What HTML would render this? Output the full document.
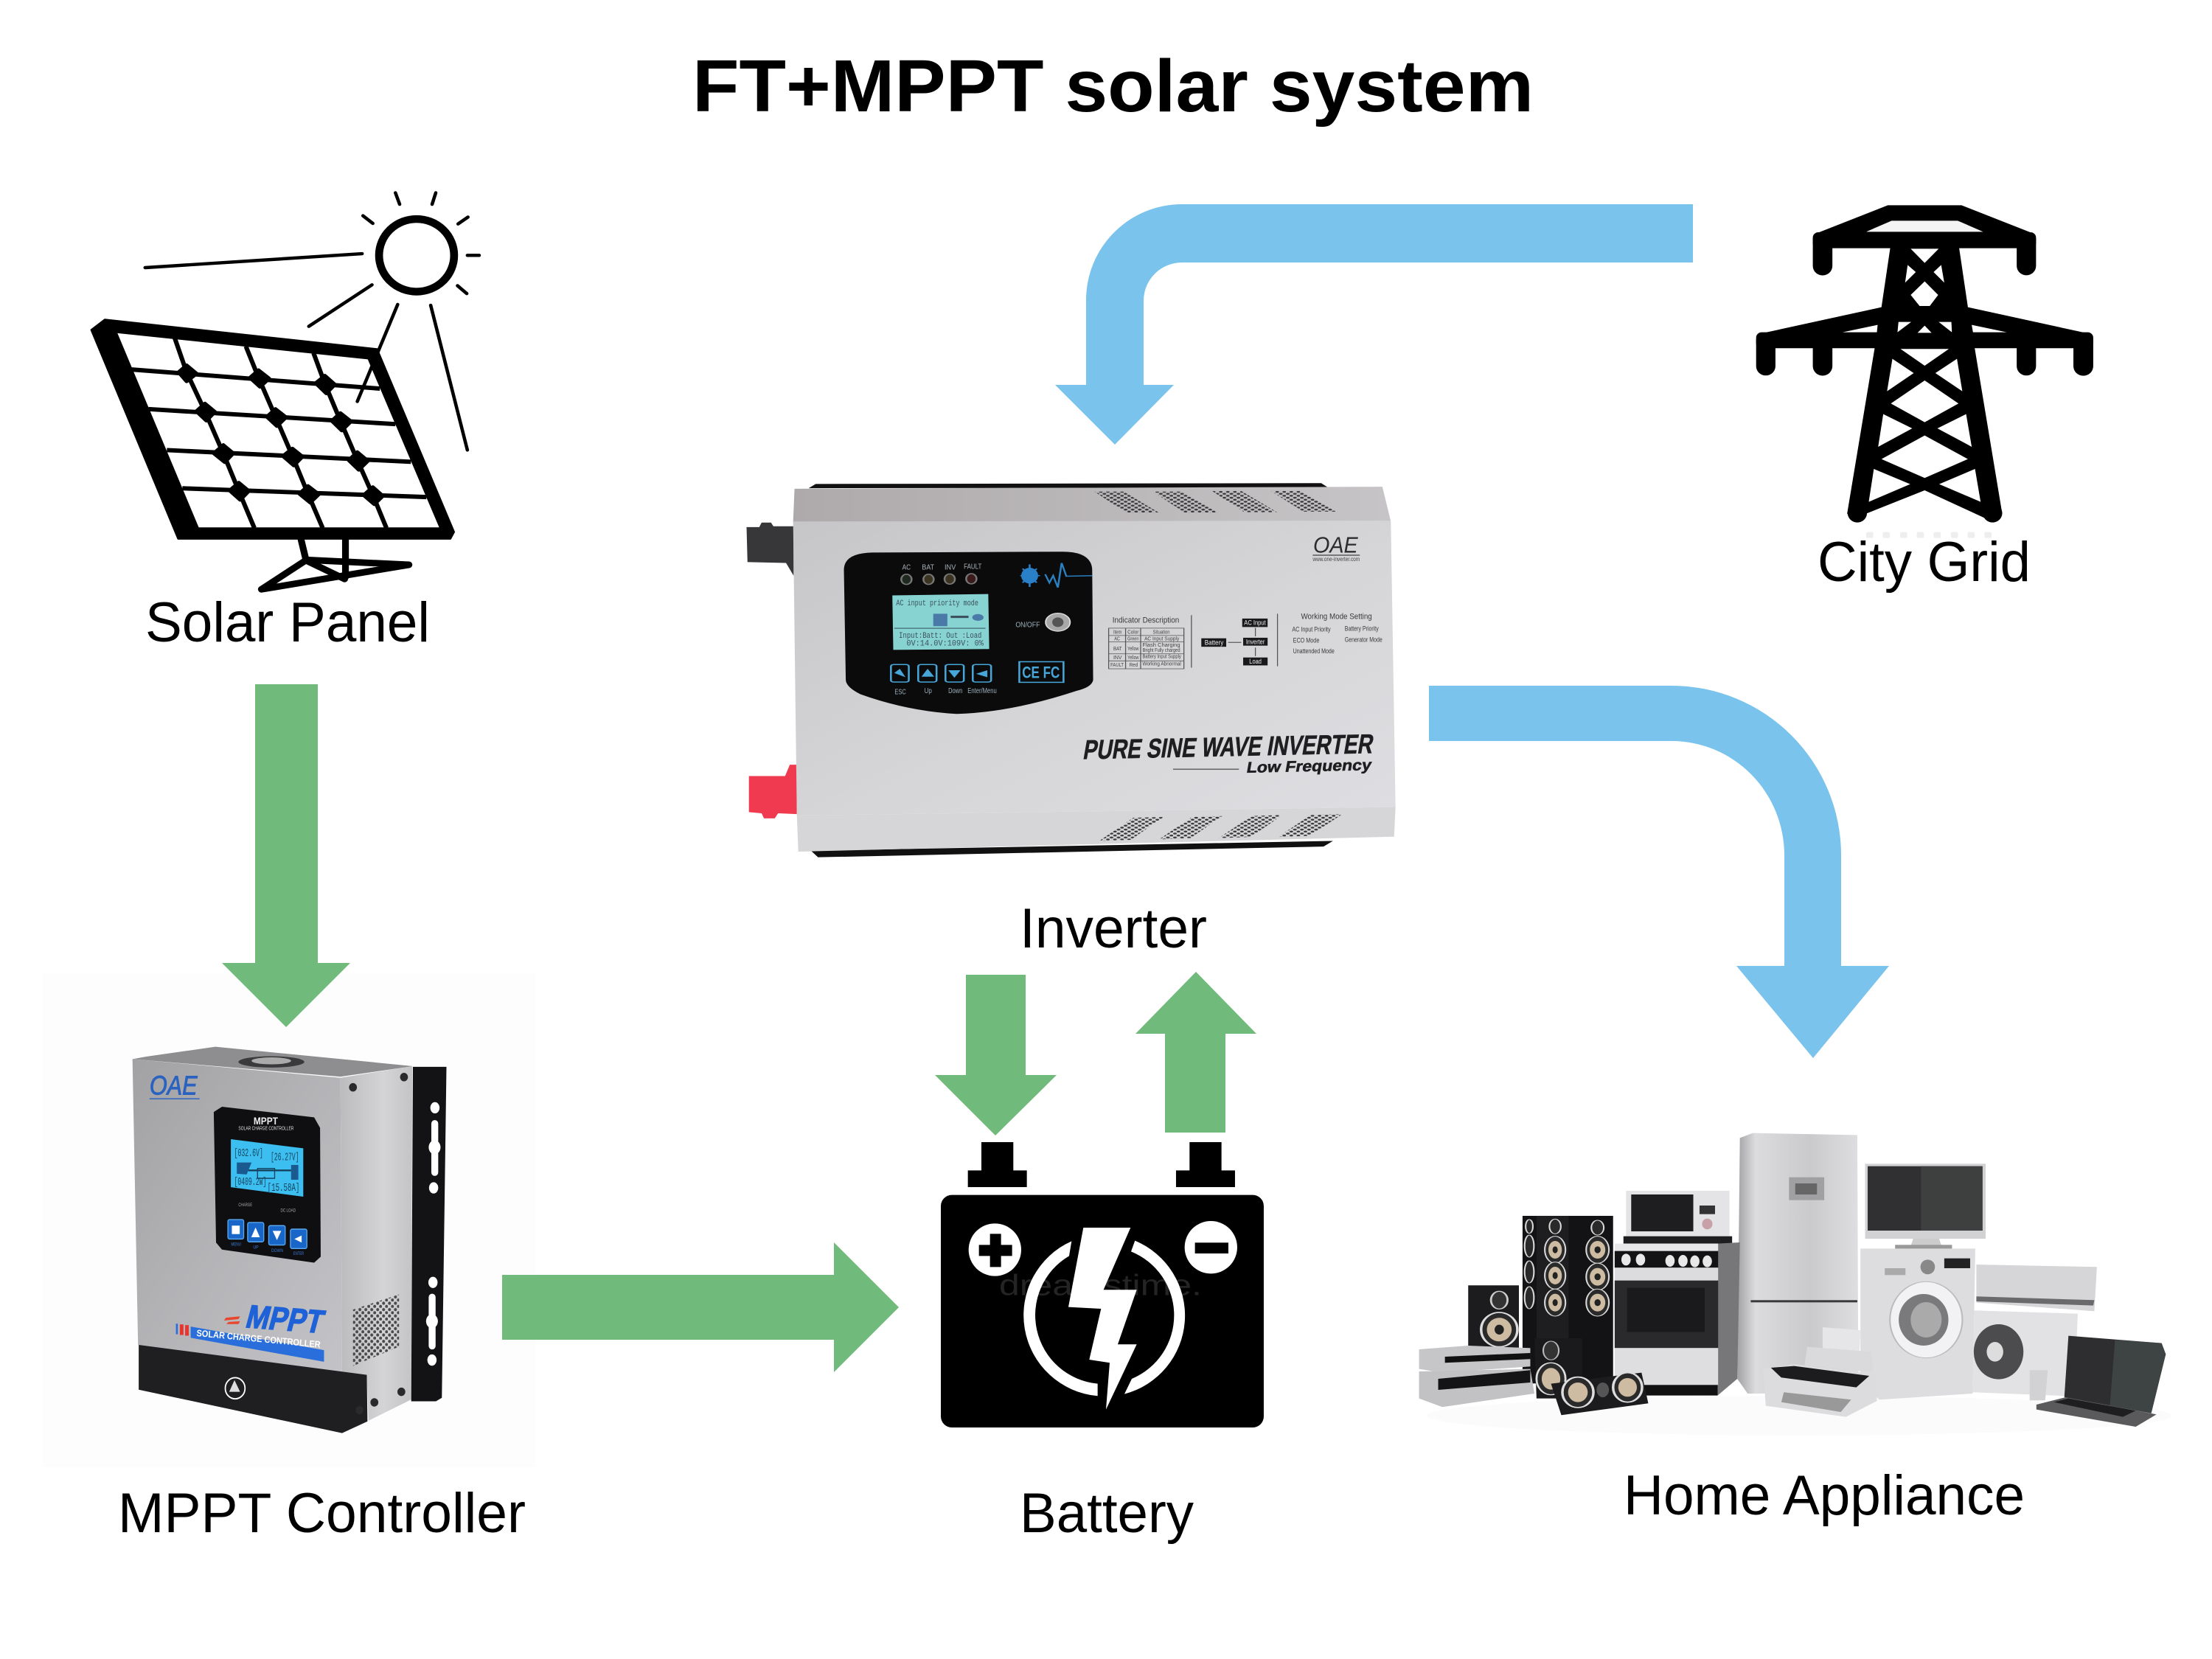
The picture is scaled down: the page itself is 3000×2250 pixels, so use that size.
<!DOCTYPE html>
<html><head><meta charset="utf-8"><title>FT+MPPT solar system</title>
<style>html,body{margin:0;padding:0;background:#fff}svg{display:block}
text{font-family:"Liberation Sans",sans-serif}.m{font-family:"Liberation Mono",monospace}</style></head>
<body>
<svg xmlns="http://www.w3.org/2000/svg" width="3000" height="2250" viewBox="0 0 3000 2250">
<defs>
<linearGradient id="face" x1="0" y1="0" x2="1" y2="1"><stop offset="0" stop-color="#c6c6c8"/><stop offset=".55" stop-color="#d6d6d8"/><stop offset="1" stop-color="#dedee2"/></linearGradient>
<linearGradient id="topg" x1="0" y1="0" x2="1" y2="0"><stop offset="0" stop-color="#aeaaab"/><stop offset="1" stop-color="#c6c4c6"/></linearGradient>
<linearGradient id="mfront" x1="0" y1="0" x2="1" y2="1"><stop offset="0" stop-color="#a2a2a4"/><stop offset=".5" stop-color="#b4b4b7"/><stop offset="1" stop-color="#c4c4c8"/></linearGradient>
<linearGradient id="mside" x1="0" y1="0" x2="1" y2="0"><stop offset="0" stop-color="#bcbcbe"/><stop offset=".6" stop-color="#d4d4d6"/><stop offset="1" stop-color="#c4c4c6"/></linearGradient>
<linearGradient id="fr" x1="0" y1="0" x2="1" y2="0"><stop offset="0" stop-color="#a2a2a4"/><stop offset=".15" stop-color="#dcdcde"/><stop offset=".6" stop-color="#cacacc"/><stop offset="1" stop-color="#dedee0"/></linearGradient>
<pattern id="vd" width="15" height="14" patternUnits="userSpaceOnUse"><ellipse cx="4" cy="4" rx="4" ry="3.4" fill="#3a3a3d"/><ellipse cx="11.5" cy="11" rx="4" ry="3.4" fill="#3a3a3d"/></pattern>
<pattern id="vm" width="18" height="18" patternUnits="userSpaceOnUse"><circle cx="5" cy="5" r="4.5" fill="#4a4a4c"/><circle cx="14" cy="14" r="4.5" fill="#4a4a4c"/></pattern>
</defs>
<rect width="3000" height="2250" fill="#fff"/>
<rect x="57" y="1320" width="670" height="670" fill="#fdfdfd"/>

<!-- Title & labels -->
<text x="939" y="151" font-size="100" font-weight="700" textLength="1141" lengthAdjust="spacingAndGlyphs">FT+MPPT solar system</text>
<text x="197" y="870" font-size="76" textLength="386" lengthAdjust="spacingAndGlyphs">Solar Panel</text>
<text x="2465" y="788" font-size="76" textLength="289" lengthAdjust="spacingAndGlyphs">City Grid</text>
<text x="1383" y="1285" font-size="76" textLength="254" lengthAdjust="spacingAndGlyphs">Inverter</text>
<text x="160" y="2078" font-size="76" textLength="553" lengthAdjust="spacingAndGlyphs">MPPT Controller</text>
<text x="1383" y="2078" font-size="76" textLength="236" lengthAdjust="spacingAndGlyphs">Battery</text>
<text x="2202" y="2054" font-size="76" textLength="544" lengthAdjust="spacingAndGlyphs">Home Appliance</text>

<!-- Arrows -->
<g fill="#70bb7c">
<polygon points="346,928 431,928 431,1306 475,1306 388,1393 301,1306 346,1306"/>
<polygon points="681,1729 1131,1729 1131,1685 1219,1773 1131,1861 1131,1817 681,1817"/>
<polygon points="1310,1322 1391,1322 1391,1458 1433,1458 1350,1540 1268,1458 1310,1458"/>
<polygon points="1580,1536 1662,1536 1662,1402 1704,1402 1622,1318 1540,1402 1580,1402"/>
</g>
<g fill="#79c3ec">
<path d="M2296 277H1603A130 130 0 0 0 1473 407V522H1431L1512 603L1592 522H1551V407A52 52 0 0 1 1603 356H2296Z"/>
<path d="M1938 930H2267A230 230 0 0 1 2497 1160V1310H2562L2459 1435L2355 1310H2420V1160A153 155 0 0 0 2267 1005H1938Z"/>
</g>

<!-- Solar panel -->
<g transform="translate(100 240) scale(.3827 .3704)">
<polygon points="62,560 110,522 1075,630 1348,1300 1335,1325 370,1325" fill="#000" stroke="#000" stroke-width="6" stroke-linejoin="round"/>
<polygon points="155,572 1042,668 1295,1283 443,1283" fill="#fff"/>
<g fill="none" stroke="#000" stroke-width="16">
<polyline points="358,590 400,715 465,858 530,1012 585,1150 640,1285"/>
<polyline points="610,620 655,735 715,878 775,1022 830,1160 882,1285"/>
<polyline points="850,645 890,757 945,893 1005,1037 1060,1165 1108,1285"/>
<line x1="205" y1="705" x2="1085" y2="775"/>
<line x1="265" y1="850" x2="1140" y2="905"/>
<line x1="330" y1="1000" x2="1195" y2="1043"/>
<line x1="385" y1="1140" x2="1250" y2="1172"/>
</g>
<g fill="#000" stroke="#000" stroke-width="14" stroke-linejoin="round">
<polygon points="400,690 435,720 400,748 372,715"/><polygon points="655,708 692,738 660,768 625,735"/><polygon points="890,728 925,760 895,792 858,755"/>
<polygon points="465,830 500,860 470,892 435,858"/><polygon points="715,850 752,880 720,912 685,878"/><polygon points="945,865 982,895 950,928 915,893"/>
<polygon points="530,982 565,1012 535,1044 497,1012"/><polygon points="775,995 810,1024 780,1056 742,1022"/><polygon points="1005,1008 1042,1040 1010,1072 975,1037"/>
<polygon points="585,1120 620,1150 590,1182 553,1148"/><polygon points="830,1132 868,1162 838,1192 800,1160"/><polygon points="1060,1136 1095,1168 1065,1198 1028,1165"/>
</g>
<g fill="none" stroke="#000" stroke-linecap="round">
<circle cx="1215" cy="287" r="133" stroke-width="28"/>
<g stroke-width="12">
<line x1="1140" y1="58" x2="1155" y2="100"/><line x1="1283" y1="58" x2="1270" y2="100"/><line x1="1025" y1="142" x2="1060" y2="170"/><line x1="1397" y1="147" x2="1362" y2="172"/><line x1="1395" y1="287" x2="1437" y2="287"/><line x1="1360" y1="398" x2="1393" y2="427"/>
<line x1="253" y1="332" x2="1022" y2="281"/><line x1="1057" y1="395" x2="833" y2="547"/><line x1="1148" y1="467" x2="1005" y2="822"/><line x1="1265" y1="470" x2="1395" y2="1000"/></g>
<g stroke-width="24"><line x1="805" y1="1325" x2="822" y2="1398"/><line x1="963" y1="1325" x2="963" y2="1465"/>
<polygon points="825,1402 1188,1420 665,1510" stroke-linejoin="round"/><line x1="825" y1="1405" x2="960" y2="1472"/></g>
</g>
</g>

<!-- Tower -->
<g transform="translate(2350 260) scale(.3448 .3333)">
<g fill="#eee"><rect x="525" y="1385" width="28" height="24" rx="6"/><rect x="590" y="1385" width="28" height="24" rx="6"/><rect x="658" y="1385" width="28" height="24" rx="6"/><rect x="724" y="1385" width="28" height="24" rx="6"/><rect x="790" y="1385" width="28" height="24" rx="6"/><rect x="858" y="1385" width="28" height="24" rx="6"/><rect x="924" y="1385" width="28" height="24" rx="6"/><rect x="990" y="1385" width="28" height="24" rx="6"/></g>
<g fill="#000">
<polygon points="340,165 610,55 900,55 1170,165"/>
<rect x="315" y="165" width="878" height="65" rx="22"/>
<path d="M315 190H392V302A38 38 0 0 1 315 302ZM1117 190H1193V302A38 38 0 0 1 1117 302Z"/>
<polygon points="620,225 890,225 925,470 1060,1310 1020,1345 985,1325 755,1215 525,1310 490,1345 450,1310 585,470"/>
<circle cx="490" cy="1308" r="38"/><circle cx="1022" cy="1308" r="38"/>
<polygon points="120,575 585,470 925,470 1390,575"/>
<rect x="92" y="572" width="1326" height="65" rx="22"/>
<path d="M92 600H168V710A38 38 0 0 1 92 710ZM315 620H392V710A38 38 0 0 1 315 710ZM1117 620H1193V710A38 38 0 0 1 1117 710ZM1340 600H1418V710A38 38 0 0 1 1340 710Z"/>
</g>
<g fill="#fff">
<polygon points="525,163 625,118 885,118 985,163" fill="#f4f4f4"/>
<polygon points="432,572 570,542 567,572"/><polygon points="1078,572 940,542 945,572"/>
<polygon points="700,232 810,232 755,290"/><polygon points="688,298 720,327 678,370"/><polygon points="820,298 790,327 832,370"/>
<polygon points="755,365 808,420 775,465 735,465 700,420"/>
<polygon points="652,530 702,530 648,572"/><polygon points="810,530 860,530 862,572"/><polygon points="755,545 782,574 727,574"/>
<polygon points="660,640 850,640 755,708"/><polygon points="628,680 712,738 607,812"/><polygon points="882,680 797,738 903,812"/>
<polygon points="755,768 888,862 755,938 622,862"/><polygon points="592,905 706,963 572,1038"/><polygon points="918,905 805,963 940,1038"/>
<polygon points="755,992 925,1088 755,1165 585,1088"/><polygon points="555,1128 698,1190 535,1262"/><polygon points="953,1128 812,1190 975,1262"/>
</g>
</g>

<!-- Battery -->
<g transform="translate(1260 1540) scale(.3333)">
<path fill="#000" d="M213 27H343V142H398V210H158V142H213ZM1060 27H1190V142H1245V210H1005V142H1060Z"/>
<rect x="48" y="242" width="1314" height="946" rx="45" fill="#000"/>
<circle cx="268" cy="465" r="107" fill="#fff"/><path fill="#000" d="M248 400H293V445H338V490H293V535H248V490H203V445H248Z"/>
<circle cx="1147" cy="455" r="107" fill="#fff"/><rect x="1082" y="436" width="136" height="44" fill="#000"/>
<text x="285" y="650" font-size="120" fill="#242424" textLength="825" lengthAdjust="spacingAndGlyphs">dreamstime.</text>
<path fill="#fff" d="M580 430A330 330 0 0 0 686 1060V1010A280 280 0 0 1 570 490Z"/>
<path fill="#fff" d="M838 428A330 330 0 0 1 795 1052L825 990A280 280 0 0 0 822 472Z"/>
<polygon fill="#fff" points="628,375 820,375 710,628 845,628 768,850 845,850 720,1115 735,925 652,912 700,705 567,698"/>
</g>

<!-- Inverter -->
<g transform="translate(950 620) scale(.6378 .3827)">
<polygon points="230,110 245,95 1320,92 1335,108" fill="#111"/>
<polygon points="235,1395 250,1418 1325,1380 1345,1360" fill="#111"/>
<polygon points="98,248 125,248 130,232 150,232 155,245 198,245 198,420 182,375 100,372" fill="#37373a"/>
<polygon points="103,1130 180,1130 190,1090 205,1090 205,1265 165,1262 158,1280 135,1280 130,1262 103,1258" fill="#f03a50"/>
<polygon points="200,112 1450,105 1468,228 197,230" fill="url(#topg)"/>
<polygon points="197,228 1468,225 1478,1240 205,1270" fill="url(#face)"/>
<polygon points="205,1270 1478,1240 1475,1345 208,1398" fill="#d6d6d8"/>
<g fill="url(#vd)">
<polygon points="838,122 900,122 975,197 905,197"/><polygon points="962,122 1025,122 1100,197 1030,197"/><polygon points="1088,120 1150,120 1226,195 1156,195"/><polygon points="1213,120 1275,120 1352,193 1282,193"/>
<polygon points="985,1275 920,1278 848,1360 915,1356"/><polygon points="1110,1272 1045,1275 975,1355 1042,1350"/><polygon points="1238,1268 1172,1272 1102,1350 1170,1346"/><polygon points="1365,1265 1298,1268 1228,1346 1295,1342"/>
</g>
<path fill="#0b0b0c" d="M365 338L770 335Q832 335 833 400L835 790Q832 815 800 828Q660 905 545 910Q440 900 340 840Q310 815 309 790L305 400Q305 340 365 338Z"/>
<g font-size="26" fill="#a8b0b8">
<text x="429" y="398" textLength="18" lengthAdjust="spacingAndGlyphs">AC</text><text x="471" y="398" textLength="26" lengthAdjust="spacingAndGlyphs">BAT</text><text x="519" y="398" textLength="24" lengthAdjust="spacingAndGlyphs">INV</text><text x="560" y="396" textLength="38" lengthAdjust="spacingAndGlyphs">FAULT</text>
</g>
<g stroke="#777" stroke-width="4">
<ellipse cx="438" cy="433" rx="11" ry="18" fill="#1e2a20"/><ellipse cx="485" cy="433" rx="11" ry="18" fill="#3a3420"/><ellipse cx="530" cy="432" rx="11" ry="18" fill="#3a3420"/><ellipse cx="576" cy="431" rx="11" ry="18" fill="#3a1a1a"/>
</g>
<g fill="none" stroke="#2a80c8" stroke-width="4"><line x1="700" y1="380" x2="700" y2="460"/><line x1="680" y1="420" x2="722" y2="420"/><line x1="685" y1="395" x2="715" y2="445"/><line x1="715" y1="395" x2="685" y2="445"/></g>
<ellipse cx="700" cy="420" rx="18" ry="28" fill="#2a80c8"/>
<polyline points="733,415 742,445 750,420 760,462 768,375 778,422 833,420" fill="none" stroke="#2a80c0" stroke-width="4"/>
<polygon points="408,490 612,485 614,680 410,683" fill="#86d3d2"/>
<g class="m" fill="#3d4f5c" font-size="28">
<text class="m" x="416" y="525" textLength="175" lengthAdjust="spacingAndGlyphs">AC input priority mode</text>
<text class="m" x="422" y="640" textLength="176" lengthAdjust="spacingAndGlyphs">Input:Batt: Out :Load</text>
<text class="m" x="438" y="668" textLength="164" lengthAdjust="spacingAndGlyphs">0V:14.0V:109V: 0%</text>
</g>
<rect x="412" y="605" width="194" height="3" fill="#3d5f6c"/>
<rect x="495" y="555" width="30" height="44" fill="#4a7aa8"/><rect x="532" y="562" width="38" height="8" fill="#3d4f5c"/>
<circle cx="590" cy="568" r="12" fill="#4a7aa8"/>
<g fill="none" stroke="#47a6d8" stroke-width="4">
<rect x="405" y="735" width="38" height="62" rx="6"/><rect x="463" y="735" width="39" height="62" rx="6"/><rect x="521" y="735" width="39" height="62" rx="6"/><rect x="579" y="735" width="39" height="62" rx="6"/>
<rect x="678" y="725" width="94" height="73"/>
</g>
<g fill="#47a6d8"><polygon points="483,750 497,778 470,778"/><polygon points="540,782 527,755 553,755"/><polygon points="424,750 412,765 436,780"/><polygon points="586,768 610,755 610,780"/></g>
<text x="684" y="782" font-size="58" font-weight="700" fill="#47a6d8" textLength="80" lengthAdjust="spacingAndGlyphs">CE FC</text>
<g font-size="26" fill="#9db0bc">
<text x="413" y="840" textLength="24" lengthAdjust="spacingAndGlyphs">ESC</text><text x="476" y="836" textLength="16" lengthAdjust="spacingAndGlyphs">Up</text><text x="527" y="836" textLength="30" lengthAdjust="spacingAndGlyphs">Down</text><text x="568" y="836" textLength="62" lengthAdjust="spacingAndGlyphs">Enter/Menu</text>
<text x="670" y="602" textLength="52" lengthAdjust="spacingAndGlyphs">ON/OFF</text>
</g>
<ellipse cx="760" cy="585" rx="26" ry="32" fill="#a8a8a8" stroke="#ddd" stroke-width="3"/><ellipse cx="760" cy="585" rx="12" ry="17" fill="#555"/>
<text x="1303" y="338" font-size="80" font-style="italic" fill="#2c2c2e" textLength="95" lengthAdjust="spacingAndGlyphs">OAE</text>
<rect x="1302" y="346" width="100" height="3" fill="#333"/>
<text x="1302" y="368" font-size="22" fill="#444" textLength="100" lengthAdjust="spacingAndGlyphs">www.one-inverter.com</text>
<g fill="#3a3a3c">
<text x="876" y="586" font-size="28" textLength="142" lengthAdjust="spacingAndGlyphs">Indicator Description</text>
<text x="1277" y="574" font-size="28" textLength="151" lengthAdjust="spacingAndGlyphs">Working Mode Setting</text>
<g font-size="24">
<text x="1258" y="618" textLength="82" lengthAdjust="spacingAndGlyphs">AC Input Priority</text>
<text x="1370" y="616" textLength="72" lengthAdjust="spacingAndGlyphs">Battery Priority</text>
<text x="1260" y="657" textLength="56" lengthAdjust="spacingAndGlyphs">ECO Mode</text>
<text x="1370" y="654" textLength="80" lengthAdjust="spacingAndGlyphs">Generator Mode</text>
<text x="1260" y="695" textLength="88" lengthAdjust="spacingAndGlyphs">Unattended Mode</text>
</g></g>
<g fill="none" stroke="#555" stroke-width="2">
<rect x="868" y="606" width="160" height="144"/><line x1="868" y1="632" x2="1028" y2="632"/><line x1="868" y1="655" x2="1028" y2="655"/><line x1="868" y1="697" x2="1028" y2="697"/><line x1="868" y1="722" x2="1028" y2="722"/><line x1="904" y1="606" x2="904" y2="750"/><line x1="936" y1="606" x2="936" y2="750"/>
</g>
<g font-size="20" fill="#444">
<text x="878" y="626" textLength="18" lengthAdjust="spacingAndGlyphs">Item</text><text x="908" y="626" textLength="24" lengthAdjust="spacingAndGlyphs">Color</text><text x="962" y="626" textLength="36" lengthAdjust="spacingAndGlyphs">Situation</text>
<text x="880" y="650" textLength="12" lengthAdjust="spacingAndGlyphs">AC</text><text x="908" y="650" textLength="24" lengthAdjust="spacingAndGlyphs">Green</text><text x="944" y="650" textLength="74" lengthAdjust="spacingAndGlyphs">AC Input Supply</text>
<text x="878" y="684" textLength="18" lengthAdjust="spacingAndGlyphs">BAT</text><text x="908" y="684" textLength="24" lengthAdjust="spacingAndGlyphs">Yellow</text><text x="940" y="672" textLength="80" lengthAdjust="spacingAndGlyphs">Flash Charging</text><text x="940" y="690" textLength="80" lengthAdjust="spacingAndGlyphs">Bright Fully charged</text>
<text x="878" y="716" textLength="18" lengthAdjust="spacingAndGlyphs">INV</text><text x="908" y="716" textLength="24" lengthAdjust="spacingAndGlyphs">Yellow</text><text x="940" y="712" textLength="82" lengthAdjust="spacingAndGlyphs">Battery Input Supply</text>
<text x="872" y="742" textLength="28" lengthAdjust="spacingAndGlyphs">FAULT</text><text x="912" y="742" textLength="18" lengthAdjust="spacingAndGlyphs">Red</text><text x="940" y="738" textLength="82" lengthAdjust="spacingAndGlyphs">Working Abnormal</text>
</g>
<g fill="#555"><rect x="1043" y="560" width="2" height="186"/><rect x="1226" y="555" width="2" height="186"/><rect x="1179" y="605" width="2" height="30"/><rect x="1179" y="675" width="2" height="30"/><rect x="1122" y="655" width="28" height="3"/></g>
<g fill="#19191b"><rect x="1152" y="572" width="54" height="30"/><rect x="1154" y="640" width="52" height="28"/><rect x="1065" y="642" width="53" height="30"/><rect x="1154" y="710" width="52" height="28"/></g>
<g fill="#eee" font-size="24">
<text x="1156" y="594" textLength="46" lengthAdjust="spacingAndGlyphs">AC Input</text><text x="1160" y="662" textLength="40" lengthAdjust="spacingAndGlyphs">Inverter</text><text x="1072" y="665" textLength="40" lengthAdjust="spacingAndGlyphs">Battery</text><text x="1167" y="732" textLength="26" lengthAdjust="spacingAndGlyphs">Load</text>
</g>
<g font-weight="700" fill="#1e1e20" stroke="#1e1e20" stroke-width="1.5">
<text transform="translate(812 1070) rotate(-2) skewX(-8)" font-size="96" textLength="616" lengthAdjust="spacingAndGlyphs">PURE SINE WAVE INVERTER</text>
<text transform="translate(1160 1118) rotate(-2) skewX(-8)" font-size="54" textLength="265" lengthAdjust="spacingAndGlyphs">Low Frequency</text>
</g>
<rect x="1005" y="1104" width="140" height="4" fill="#666"/>
</g>

<!-- MPPT controller -->
<g transform="translate(60 1300) scale(.4464 .4785)">
<polygon points="310,278 520,250 1120,305 900,335 268,285" fill="#8e8e90"/>
<ellipse cx="690" cy="293" rx="100" ry="16" fill="#3a3a3c"/><ellipse cx="690" cy="290" rx="60" ry="10" fill="#aaa"/>
<polygon points="268,285 900,338 905,1205 285,1095" fill="url(#mfront)"/>
<polygon points="900,338 1118,305 1115,1250 985,1310 980,1180 905,1205" fill="url(#mside)"/>
<polygon points="287,1095 980,1180 982,1312 905,1345 287,1222" fill="#1f1f21"/>
<polygon points="1120,307 1222,307 1208,1245 1190,1255 1115,1255" fill="#131315"/>
<g fill="#fff"><ellipse cx="1187" cy="423" rx="14" ry="16"/><ellipse cx="1183" cy="650" rx="14" ry="16"/><ellipse cx="1181" cy="918" rx="14" ry="16"/><ellipse cx="1178" cy="1138" rx="14" ry="16"/>
<rect x="1176" y="458" width="21" height="158" rx="10"/><rect x="1168" y="950" width="21" height="158" rx="10"/><ellipse cx="1186" cy="535" rx="18" ry="20"/><ellipse cx="1178" cy="1028" rx="18" ry="20"/></g>
<polygon points="938,995 1078,952 1078,1100 938,1155" fill="url(#vm)"/>
<polygon points="515,435 540,420 820,450 838,480 840,845 820,862 540,825 522,805" fill="#0f0f11"/>
<polygon points="567,512 787,538 787,675 567,648" fill="#3cbff0"/>
<g class="m" fill="#14425e" font-size="30">
<text class="m" x="577" y="560" textLength="88" lengthAdjust="spacingAndGlyphs">[032.6V]</text>
<text class="m" x="688" y="572" textLength="86" lengthAdjust="spacingAndGlyphs">[26.27V]</text>
<text class="m" x="577" y="642" textLength="98" lengthAdjust="spacingAndGlyphs">[0409.2W]</text>
<text class="m" x="678" y="658" textLength="98" lengthAdjust="spacingAndGlyphs">[15.58A]</text>
</g>
<polygon points="585,578 630,578 615,612 585,610" fill="#1a5a90"/><rect x="648" y="595" width="52" height="28" fill="none" stroke="#14425e" stroke-width="3"/><rect x="750" y="585" width="22" height="42" fill="#1a5a90"/><rect x="620" y="598" width="130" height="5" fill="#14425e"/>
<text x="636" y="470" font-size="28" font-weight="700" fill="#eee" textLength="74" lengthAdjust="spacingAndGlyphs">MPPT</text>
<text x="590" y="486" font-size="16" fill="#ddd" textLength="168" lengthAdjust="spacingAndGlyphs">SOLAR CHARGE CONTROLLER</text>
<g font-size="14" fill="#aaa"><text x="590" y="702" textLength="42" lengthAdjust="spacingAndGlyphs">CHARGE</text><text x="718" y="718" textLength="46" lengthAdjust="spacingAndGlyphs">DC LOAD</text></g>
<g fill="#1866c8" stroke="#5aa8ee" stroke-width="3"><rect x="558" y="740" width="48" height="55" rx="5"/><rect x="618" y="748" width="49" height="55" rx="5"/><rect x="682" y="757" width="50" height="55" rx="5"/><rect x="748" y="767" width="50" height="55" rx="5"/></g>
<g fill="#fff"><rect x="570" y="757" width="24" height="24"/><polygon points="642,762 655,790 629,790"/><polygon points="707,798 694,772 720,772"/><polygon points="760,795 782,785 782,805"/></g>
<g font-size="13" fill="#3a7ad8"><text x="568" y="814" textLength="30" lengthAdjust="spacingAndGlyphs">MENU</text><text x="635" y="822" textLength="16" lengthAdjust="spacingAndGlyphs">UP</text><text x="690" y="832" textLength="36" lengthAdjust="spacingAndGlyphs">DOWN</text><text x="757" y="840" textLength="32" lengthAdjust="spacingAndGlyphs">ENTER</text></g>
<text x="320" y="386" font-size="76" font-style="italic" fill="#2a62c0" stroke="#2a62c0" stroke-width="2" textLength="145" lengthAdjust="spacingAndGlyphs">OAE</text>
<rect x="320" y="396" width="152" height="3" fill="#2a62c0"/>
<text transform="translate(608 1045) rotate(4) skewX(-12)" font-size="92" font-weight="700" fill="#1f62d8" stroke="#1f62d8" stroke-width="3" textLength="232" lengthAdjust="spacingAndGlyphs">MPPT</text>
<g fill="#e8452e"><polygon points="552,1018 595,1014 590,1022 546,1026"/><polygon points="560,1030 595,1028 590,1036 553,1036"/></g>
<polygon points="445,1043 850,1110 850,1143 445,1075" fill="#2a6edc"/>
<text transform="translate(462 1070) rotate(5)" font-size="26" font-weight="700" fill="#fff" textLength="378" lengthAdjust="spacingAndGlyphs">SOLAR CHARGE CONTROLLER</text>
<g><rect x="400" y="1035" width="6" height="30" fill="#2a6edc"/><rect x="412" y="1037" width="11" height="30" fill="#e8352e"/><rect x="428" y="1039" width="11" height="30" fill="#e8352e"/></g>
<circle cx="580" cy="1218" r="30" fill="none" stroke="#fff" stroke-width="4"/><polygon points="578,1195 595,1228 562,1228" fill="#ddd"/>
<g fill="#2a2a2c"><circle cx="938" cy="365" r="12"/><circle cx="1093" cy="336" r="12"/><circle cx="958" cy="1280" r="12"/><circle cx="1003" cy="1258" r="12"/><circle cx="1085" cy="1228" r="12"/></g>
</g>

<!-- Appliances -->
<g transform="translate(1900 1500) scale(.7018 .3333)">
<ellipse cx="770" cy="1260" rx="720" ry="80" fill="#fbfbfb"/>
<polygon points="1112,645 1345,655 1340,835 1112,800" fill="#d6d6d8"/><polygon points="1112,775 1340,790 1338,812 1112,795" fill="#6a6a6c"/>
<polygon points="1108,832 1308,845 1305,1000 1285,1180 1105,1165" fill="#e2e2e4"/>
<ellipse cx="1155" cy="1000" rx="48" ry="112" fill="#4c4c4e"/><ellipse cx="1148" cy="1000" rx="16" ry="40" fill="#ddd"/>
<polygon points="655,130 680,110 882,118 884,1170 670,1170 650,1110" fill="url(#fr)"/>
<rect x="676" y="790" width="206" height="9" fill="#3a3a3c"/><rect x="750" y="290" width="68" height="93" fill="#a0a0a2"/><rect x="762" y="315" width="42" height="45" fill="#666"/>
<rect x="897" y="235" width="233" height="305" fill="#d2d2d4"/><rect x="902" y="245" width="222" height="262" fill="#303032"/><rect x="1005" y="245" width="118" height="262" fill="#3e4040"/>
<polygon points="990,540 1040,540 1045,570 985,570" fill="#ccc"/><rect x="955" y="565" width="110" height="20" fill="#999"/>
<polygon points="888,580 1110,580 1105,1170 925,1195 888,1130" fill="#dddddf"/>
<rect x="935" y="660" width="40" height="28" fill="#aaa"/><ellipse cx="1018" cy="655" rx="14" ry="30" fill="#888"/><rect x="1050" y="620" width="50" height="40" fill="#222"/>
<ellipse cx="1015" cy="870" rx="70" ry="155" fill="#f2f2f4" stroke="#bbb" stroke-width="3"/><ellipse cx="1010" cy="870" rx="48" ry="105" fill="#7a7a7c"/><ellipse cx="1015" cy="870" rx="30" ry="72" fill="#aaa"/>
<polygon points="435,345 635,345 635,530 435,530" fill="#e4e4e6"/><rect x="445" y="360" width="120" height="150" fill="#1e1e20"/><rect x="577" y="405" width="30" height="35" fill="#333"/><ellipse cx="592" cy="480" rx="10" ry="22" fill="#c8a0a8"/>
<rect x="430" y="530" width="210" height="30" fill="#1e1e20"/>
<polygon points="612,560 655,555 650,1110 612,1178" fill="#77777a"/>
<rect x="413" y="560" width="200" height="30" fill="#e8e8ea"/><rect x="413" y="590" width="200" height="68" fill="#131315"/>
<g fill="#e8e8e8"><ellipse cx="435" cy="625" rx="9" ry="24"/><ellipse cx="463" cy="625" rx="9" ry="24"/><ellipse cx="520" cy="630" rx="9" ry="24"/><ellipse cx="545" cy="630" rx="9" ry="24"/><ellipse cx="568" cy="632" rx="9" ry="24"/><ellipse cx="592" cy="632" rx="9" ry="24"/></g>
<rect x="413" y="658" width="200" height="52" fill="#dcdcde"/><rect x="413" y="710" width="200" height="275" fill="#2a2a2c"/><rect x="437" y="740" width="150" height="180" fill="#1a1a1c"/>
<rect x="413" y="985" width="200" height="150" fill="#dedee0"/><rect x="430" y="1135" width="182" height="43" fill="#111"/>
<rect x="235" y="447" width="175" height="682" fill="#131315"/><rect x="262" y="447" width="62" height="500" fill="#1e1e20"/>
<g fill="#2a2a2a" stroke="#d8d8d8" stroke-width="3">
<ellipse cx="248" cy="490" rx="7" ry="28"/><ellipse cx="248" cy="570" rx="9" ry="45"/><ellipse cx="248" cy="675" rx="9" ry="45"/><ellipse cx="248" cy="780" rx="9" ry="45"/>
<ellipse cx="298" cy="490" rx="11" ry="30"/><ellipse cx="298" cy="585" rx="20" ry="55"/><ellipse cx="298" cy="690" rx="20" ry="55"/><ellipse cx="298" cy="800" rx="20" ry="55"/>
<ellipse cx="380" cy="495" rx="12" ry="30"/><ellipse cx="380" cy="585" rx="22" ry="55"/><ellipse cx="380" cy="695" rx="22" ry="55"/><ellipse cx="380" cy="800" rx="22" ry="55"/>
</g>
<g fill="#cdbba2">
<ellipse cx="298" cy="585" rx="13" ry="36"/><ellipse cx="298" cy="690" rx="13" ry="36"/><ellipse cx="298" cy="800" rx="13" ry="36"/>
<ellipse cx="380" cy="585" rx="15" ry="36"/><ellipse cx="380" cy="695" rx="15" ry="36"/><ellipse cx="380" cy="800" rx="15" ry="36"/>
</g>
<g fill="#222"><ellipse cx="298" cy="585" rx="5" ry="14"/><ellipse cx="298" cy="690" rx="5" ry="14"/><ellipse cx="298" cy="800" rx="5" ry="14"/><ellipse cx="380" cy="585" rx="6" ry="14"/><ellipse cx="380" cy="695" rx="6" ry="14"/><ellipse cx="380" cy="800" rx="6" ry="14"/></g>
<polygon points="130,730 228,730 228,985 165,995 130,975" fill="#1c1c1e"/>
<ellipse cx="190" cy="790" rx="16" ry="36" fill="#333" stroke="#ccc" stroke-width="4"/>
<ellipse cx="190" cy="910" rx="35" ry="70" fill="#2a2a2a" stroke="#ddd" stroke-width="5"/><ellipse cx="190" cy="910" rx="24" ry="48" fill="#cdbba2"/><ellipse cx="190" cy="910" rx="9" ry="20" fill="#222"/>
<polygon points="35,990 130,975 250,985 250,1060 80,1085 35,1070" fill="#c6c6c8"/><polygon points="85,1020 250,1005 250,1030 85,1045" fill="#111"/>
<polygon points="35,1080 250,1070 258,1170 80,1225 35,1190" fill="#c2c2c4"/><polygon points="72,1110 250,1075 250,1125 72,1155" fill="#141416"/>
<polygon points="258,945 350,945 350,1130 300,1190 262,1190" fill="#1a1a1c"/><ellipse cx="290" cy="995" rx="15" ry="38" fill="#333" stroke="#bbb" stroke-width="3"/><ellipse cx="290" cy="1110" rx="28" ry="65" fill="#2a2a2a" stroke="#ddd" stroke-width="4"/><ellipse cx="290" cy="1110" rx="18" ry="44" fill="#cdbba2"/>
<polygon points="290,1130 465,1085 478,1210 310,1258" fill="#1c1c1e"/>
<ellipse cx="342" cy="1165" rx="30" ry="62" fill="#2a2a2a" stroke="#ddd" stroke-width="5"/><ellipse cx="342" cy="1165" rx="19" ry="40" fill="#cdbba2"/><ellipse cx="438" cy="1145" rx="28" ry="60" fill="#2a2a2a" stroke="#ddd" stroke-width="5"/><ellipse cx="438" cy="1145" rx="18" ry="38" fill="#cdbba2"/><ellipse cx="390" cy="1155" rx="12" ry="30" fill="#555"/>
<polygon points="815,900 888,912 885,1060 815,1040" fill="#e6e6e8"/><polygon points="785,980 910,1000 912,1085 780,1055" fill="#dadadc"/>
<polygon points="700,1070 760,1050 915,1090 920,1200 860,1265 705,1220" fill="#dcdcde"/><polygon points="715,1065 760,1058 905,1098 880,1145 735,1105" fill="#1c1c1e"/><polygon points="740,1165 870,1195 850,1245 735,1205" fill="#999"/>
<polygon points="1215,1075 1250,1075 1245,1198 1215,1198" fill="#d2d2d4"/>
<polygon points="1290,935 1470,965 1478,1010 1450,1250 1282,1185" fill="#2e2e30"/><polygon points="1380,952 1470,965 1478,1010 1450,1250 1370,1220" fill="#3e4444"/>
<polygon points="1228,1215 1285,1185 1460,1255 1420,1305 1228,1235" fill="#5a5a5c"/><polygon points="1262,1205 1290,1190 1420,1240 1395,1265" fill="#1e1e20"/>
</g>
</svg>
</body></html>
